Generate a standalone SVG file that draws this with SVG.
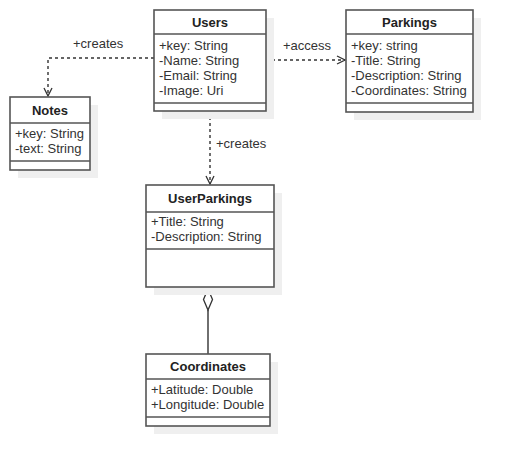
<svg xmlns="http://www.w3.org/2000/svg" width="513" height="466" viewBox="0 0 513 466">
<style>
.sh{fill:#efefef;stroke:none}
.bx{fill:#fff;stroke:#555;stroke-width:1.6}
.ln{stroke:#555;stroke-width:1.6}
.t{font-family:"Liberation Sans",Arial,sans-serif;font-size:13px;fill:#333}
.h{font-family:"Liberation Sans",Arial,sans-serif;font-size:13px;font-weight:bold;fill:#222;text-anchor:middle}
.c{fill:none;stroke:#333;stroke-width:1.4}
.d{stroke-dasharray:3,3}
</style>
<defs>
<marker id="open" viewBox="0 0 10 10" refX="9" refY="5" markerWidth="10" markerHeight="10" markerUnits="userSpaceOnUse" orient="auto">
<path d="M1,1 L9,5 L1,9" fill="none" stroke="#333" stroke-width="1.3"/>
</marker>
</defs>
<g id="connectors">
<path class="c d" d="M154,58 H48 V96" marker-end="url(#open)"/>
<text class="t" x="73" y="48">+creates</text>
<path class="c d" d="M266,60 H345" marker-end="url(#open)"/>
<text class="t" x="283" y="50">+access</text>
<path class="c d" d="M210,111 V184" marker-end="url(#open)"/>
<text class="t" x="216" y="148">+creates</text>
<path class="c" d="M208,310 V354"/>
<path d="M208,289 L212.5,299.5 L208,310 L203.5,299.5 Z" fill="#fff" stroke="#333" stroke-width="1.3"/>
</g>
<g id="users">
<rect class="sh" x="162" y="18" width="112" height="101"/>
<rect class="bx" x="154" y="10" width="112" height="101"/>
<line class="ln" x1="154" y1="34" x2="266" y2="34"/>
<line class="ln" x1="154" y1="103" x2="266" y2="103"/>
<text class="h" x="210" y="27">Users</text>
<text class="t" x="159" y="50">+key: String</text>
<text class="t" x="159" y="65">-Name: String</text>
<text class="t" x="159" y="80">-Email: String</text>
<text class="t" x="159" y="95">-Image: Uri</text>
</g>
<g id="parkings">
<rect class="sh" x="354" y="18" width="127" height="102"/>
<rect class="bx" x="346" y="10" width="127" height="102"/>
<line class="ln" x1="346" y1="34" x2="473" y2="34"/>
<line class="ln" x1="346" y1="103" x2="473" y2="103"/>
<text class="h" x="409.5" y="27">Parkings</text>
<text class="t" x="351" y="50">+key: string</text>
<text class="t" x="351" y="65">-Title: String</text>
<text class="t" x="351" y="80">-Description: String</text>
<text class="t" x="351" y="95">-Coordinates: String</text>
</g>
<g id="notes">
<rect class="sh" x="18" y="105" width="80" height="73"/>
<rect class="bx" x="10" y="97" width="80" height="73"/>
<line class="ln" x1="10" y1="123" x2="90" y2="123"/>
<line class="ln" x1="10" y1="161" x2="90" y2="161"/>
<text class="h" x="50" y="115">Notes</text>
<text class="t" x="15" y="138">+key: String</text>
<text class="t" x="15" y="153">-text: String</text>
</g>
<g id="userparkings">
<rect class="sh" x="154" y="193" width="128" height="102"/>
<rect class="bx" x="146" y="185" width="128" height="102"/>
<line class="ln" x1="146" y1="212" x2="274" y2="212"/>
<line class="ln" x1="146" y1="249" x2="274" y2="249"/>
<text class="h" x="210" y="203">UserParkings</text>
<text class="t" x="151" y="226">+Title: String</text>
<text class="t" x="151" y="241">-Description: String</text>
</g>
<g id="coordinates">
<rect class="sh" x="154" y="362" width="124" height="72"/>
<rect class="bx" x="146" y="354" width="124" height="72"/>
<line class="ln" x1="146" y1="379" x2="270" y2="379"/>
<line class="ln" x1="146" y1="417" x2="270" y2="417"/>
<text class="h" x="208" y="371">Coordinates</text>
<text class="t" x="151" y="394">+Latitude: Double</text>
<text class="t" x="151" y="409">+Longitude: Double</text>
</g>
</svg>
